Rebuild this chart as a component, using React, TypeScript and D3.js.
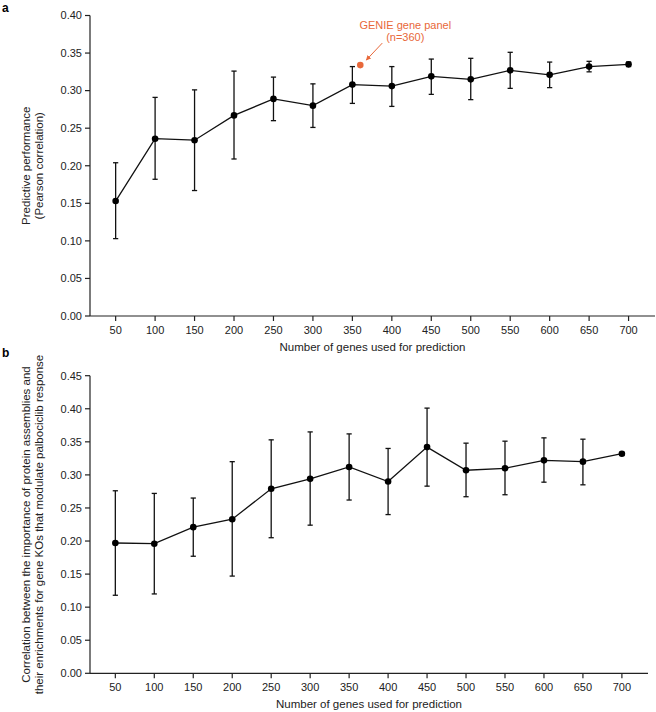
import React from "react";
import * as d3 from "d3";

const genes = [50, 100, 150, 200, 250, 300, 350, 400, 450, 500, 550, 600, 650, 700];
const aMean = [0.153, 0.236, 0.234, 0.267, 0.289, 0.280, 0.308, 0.306, 0.319, 0.315, 0.327, 0.321, 0.332, 0.335];
const aHigh = [0.204, 0.291, 0.301, 0.326, 0.318, 0.309, 0.332, 0.332, 0.342, 0.343, 0.351, 0.338, 0.339, 0.338];
const aLow = [0.103, 0.182, 0.167, 0.209, 0.260, 0.251, 0.283, 0.279, 0.295, 0.288, 0.303, 0.304, 0.325, 0.332];
const bMean = [0.197, 0.196, 0.221, 0.233, 0.279, 0.294, 0.312, 0.290, 0.342, 0.307, 0.310, 0.322, 0.320, 0.332];
const bHigh = [0.276, 0.272, 0.265, 0.320, 0.353, 0.365, 0.362, 0.340, 0.401, 0.348, 0.351, 0.356, 0.354, 0.334];
const bLow = [0.118, 0.120, 0.177, 0.147, 0.205, 0.224, 0.262, 0.240, 0.283, 0.267, 0.270, 0.289, 0.285, 0.330];
const aTicks = [0, 0.05, 0.1, 0.15, 0.2, 0.25, 0.3, 0.35, 0.4];
const bTicks = [0, 0.05, 0.1, 0.15, 0.2, 0.25, 0.3, 0.35, 0.4, 0.45];
const genie = { genes: 360, value: 0.334 };
const xTitle = "Number of genes used for prediction";
const aYTitle = ["Predictive performance", "(Pearson correlation)"];
const bYTitle = ["Correlation between the importance of protein assemblies and", "their enrichments for gene KOs that modulate palbociclib response"];

const FONT = "Liberation Sans, Arial, sans-serif";
const ORANGE = "#e8683a";

type PanelProps = {
  label: string;
  labelY: number;
  mean: number[];
  high: number[];
  low: number[];
  ticks: number[];
  yMax: number;
  top: number;
  bottom: number;
  right: number;
  yTitle: string[];
  genieMark?: boolean;
};

function Panel(p: PanelProps) {
  const left = 90;
  const x = d3.scaleLinear().domain([17.5, 733.5]).range([left, p.right]);
  const y = d3.scaleLinear().domain([0, p.yMax]).range([p.bottom, p.top]);
  const line = d3
    .line<number>()
    .x((_, i) => x(genes[i]))
    .y((v) => y(v));
  const midY = (p.top + p.bottom) / 2;
  return (
    <g fontFamily={FONT}>
      <text x={2} y={p.labelY} fontSize={12} fontWeight="bold">{p.label}</text>
      <line x1={left} x2={left} y1={p.top} y2={p.bottom} stroke="#222" strokeWidth={1.2} />
      <line x1={left} x2={p.right} y1={p.bottom} y2={p.bottom} stroke="#222" strokeWidth={1.2} />
      {p.ticks.map((t) => (
        <g key={t}>
          <line x1={left - 5} x2={left} y1={y(t)} y2={y(t)} stroke="#222" strokeWidth={1.2} />
          <text x={left - 8} y={y(t)} dy="0.35em" textAnchor="end" fontSize={11} fill="#222">
            {t.toFixed(2)}
          </text>
        </g>
      ))}
      {genes.map((g) => (
        <g key={g}>
          <line x1={x(g)} x2={x(g)} y1={p.bottom} y2={p.bottom + 5} stroke="#222" strokeWidth={1.2} />
          <text x={x(g)} y={p.bottom + 18} textAnchor="middle" fontSize={11} fill="#222">{g}</text>
        </g>
      ))}
      <text x={(left + p.right) / 2} y={p.bottom + 35} textAnchor="middle" fontSize={11.5} fill="#222">
        {xTitle}
      </text>
      <text transform={`translate(30,${midY}) rotate(-90)`} textAnchor="middle" fontSize={11.5} fill="#222">
        <tspan x={0} dy={0}>{p.yTitle[0]}</tspan>
        <tspan x={0} dy={13}>{p.yTitle[1]}</tspan>
      </text>
      {genes.map((g, i) => (
        <g key={"e" + g} stroke="#111" strokeWidth={1.3}>
          <line x1={x(g)} x2={x(g)} y1={y(p.high[i])} y2={y(p.low[i])} />
          <line x1={x(g) - 2.6} x2={x(g) + 2.6} y1={y(p.high[i])} y2={y(p.high[i])} />
          <line x1={x(g) - 2.6} x2={x(g) + 2.6} y1={y(p.low[i])} y2={y(p.low[i])} />
        </g>
      ))}
      <path d={line(p.mean) || ""} fill="none" stroke="#111" strokeWidth={1.3} />
      {genes.map((g, i) => (
        <circle key={"c" + g} cx={x(g)} cy={y(p.mean[i])} r={3.3} fill="#000" />
      ))}
      {p.genieMark && (
        <g>
          <circle cx={x(genie.genes)} cy={y(genie.value)} r={3.3} fill={ORANGE} />
          <line
            x1={x(genie.genes) + 22}
            y1={y(genie.value) - 22}
            x2={x(genie.genes) + 6}
            y2={y(genie.value) - 5}
            stroke={ORANGE}
            strokeWidth={1}
            markerEnd="url(#arrowO)"
          />
          <text x={x(genie.genes) + 45} y={y(genie.value) - 36} textAnchor="middle" fontSize={11} fill={ORANGE}>
            <tspan x={x(genie.genes) + 45} dy={0}>GENIE gene panel</tspan>
            <tspan x={x(genie.genes) + 45} dy={12}>(n={genie.genes})</tspan>
          </text>
        </g>
      )}
    </g>
  );
}

export default function App() {
  return (
    <svg width={656} height={712} style={{ position: "absolute", left: 0, top: 0, background: "#fff" }}>
      <defs>
        <marker id="arrowO" viewBox="0 0 10 10" refX={9} refY={5} markerWidth={5} markerHeight={5} orient="auto">
          <path d="M0,0 L10,5 L0,10 z" fill={ORANGE} />
        </marker>
      </defs>
      <rect width={656} height={712} fill="#fff" />
      <Panel
        label="a"
        labelY={12}
        mean={aMean}
        high={aHigh}
        low={aLow}
        ticks={aTicks}
        yMax={0.4}
        top={15.5}
        bottom={316}
        right={655}
        yTitle={aYTitle}
        genieMark
      />
      <Panel
        label="b"
        labelY={357}
        mean={bMean}
        high={bHigh}
        low={bLow}
        ticks={bTicks}
        yMax={0.45}
        top={375.7}
        bottom={673.3}
        right={648}
        yTitle={bYTitle}
      />
    </svg>
  );
}
